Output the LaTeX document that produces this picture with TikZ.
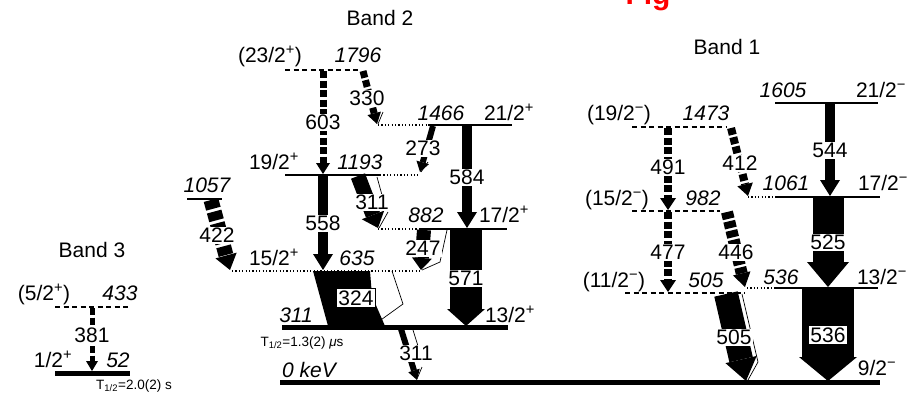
\documentclass[tikz,border=0pt]{standalone}
\usepackage{fontspec}
\setmainfont{Liberation Sans}
\usetikzlibrary{calc}
% #1 style, #2 x1, #3 y1, #4 x2, #5 y2, #6 body width, #7 head width, #8 head length
\newcommand{\gam}[8]{%
  \pgfmathsetmacro\gang{atan2((#3)-(#5),(#4)-(#2))}%
  \pgfmathsetmacro\glen{veclen((#4)-(#2),(#5)-(#3))}%
  \pgfmathsetmacro\gbody{\glen-(#8)}%
  \begin{scope}[shift={(#2,#3)},rotate=\gang]
    \draw[line width=#6pt,#1] (0,0) -- (\gbody,0);
    \fill (\gbody,-#7/2) -- (\glen,0) -- (\gbody,#7/2) -- cycle;
  \end{scope}}
\tikzset{
  lab/.style={font=\fontsize{21}{24}\selectfont, inner sep=1pt, text height=15pt, text depth=0pt},
  en/.style={lab, font=\fontsize{21}{24}\selectfont\itshape},
  glab/.style={lab, fill=white},
  gbox/.style={lab, fill=white, draw=black, line width=0.6pt, inner sep=2pt},
  lev/.style={line width=1.2pt},
  levthick/.style={line width=5pt},
  levdash/.style={line width=1.2pt, dash pattern=on 5pt off 3.5pt},
  levdot/.style={line width=1.2pt, dash pattern=on 1.2pt off 2.2pt},
  gdash/.style={dash pattern=on 7pt off 2.5pt},
  thinl/.style={line width=0.7pt},
  small/.style={font=\fontsize{13.5}{15}\selectfont, inner sep=0pt}
}
\begin{document}
\begin{tikzpicture}[x=1pt,y=-1pt]
\useasboundingbox (0,0) rectangle (916,394);
\fill[white] (0,0) rectangle (916,394);

% cropped red heading
\node[anchor=base, text=red, font=\fontsize{30}{30}\selectfont\bfseries, inner sep=0pt] (fig) at (648,4) {Fig};

% ---------------- levels ----------------
% Band 3
\draw[levdash] (55,307) -- (130,307);
\draw[levthick] (55,373) -- (130,373);
% Band 2
\draw[levdash] (285,70) -- (360,70);
\draw[levdot] (378,125) -- (428,125);
\draw[lev] (428,125) -- (512,125);
\draw[lev] (285,175) -- (380,175);
\draw[levdot] (380,175) -- (418,175);
\draw[lev] (187,199) -- (222,199);
\draw[levdot] (378,229) -- (420,229);
\draw[lev] (420,229) -- (507,229);
\draw[levdot] (232,271) -- (420,271);
\draw[levthick] (282,327) -- (508,327);
\draw[levthick] (280,382) -- (880,382);
% Band 1
\draw[lev] (775,103) -- (878,103);
\draw[levdash] (632,127) -- (727,127);
\draw[levdot] (748,197) -- (775,197);
\draw[lev] (775,197) -- (880,197);
\draw[levdash] (632,211) -- (720,211);
\draw[levdash] (625,293) -- (745,293);
\draw[levdot] (747,288) -- (775,288);
\draw[lev] (775,288) -- (878,288);

% ---------------- transitions ----------------
% Band 3
\gam{gdash}{92}{308}{92}{371}{5}{12}{10}
% Band 2
\gam{gdash}{323}{71}{323}{174}{7}{14}{11}
\gam{gdash}{363}{71}{377}{124}{7}{14}{11}
\draw[thinl] (383,112) -- (378,124);
\gam{}{433}{126}{420}{172}{6}{13}{10}
\draw[thinl] (428,162) -- (421,172);
\gam{}{467}{126}{467}{228}{10}{20}{16}
\gam{}{358}{176}{378}{228}{15}{24}{14}
\draw[thinl] (377,177) -- (382,195);
\draw[thinl] (388,212) -- (379,228);
\gam{}{323}{176}{323}{270}{10}{20}{16}
\gam{dash pattern=on 9pt off 3pt}{211}{200}{230}{270}{15}{22}{15}
\gam{}{424}{230}{421}{270}{14}{20}{12}
\draw[thinl] (447,230) -- (440,262) -- (422,270);
\gam{}{466}{229}{466}{326}{32}{38}{17}
\fill (313,271) -- (370,271) -- (372,296) -- (385,326) -- (328,326) -- cycle;
\draw[thinl] (392,271) -- (403,304) -- (378,322);
\gam{}{401}{329}{417}{380}{6}{12}{10}
\draw[thinl] (413,330) -- (418,346);
\draw[thinl] (422,367) -- (417,379);
% Band 1
\gam{}{830}{104}{830}{196}{10}{20}{16}
\gam{gdash}{668}{128}{668}{210}{8}{16}{12}
\gam{gdash}{731}{128}{748}{196}{8}{16}{12}
\gam{}{828}{198}{828}{287}{31}{42}{25}
\gam{gdash}{668}{212}{668}{292}{8}{16}{12}
\gam{gdash}{727}{212}{745}{287}{12}{18}{14}
\gam{}{726}{294}{746}{381}{24}{32}{22}
\draw[thinl] (742,294) -- (758,362) -- (748,380);
\gam{}{828}{289}{828}{381}{52}{58}{24}

% ---------------- labels ----------------
% Band 3
\node[lab] (b3) at (92,250) {Band 3};
\node[lab] (s433) at (44,293) {(5/2\textsuperscript{+})};
\node[en] (e433) at (120,293) {433};
\node[lab] (s52) at (53,360) {1/2\textsuperscript{+}};
\node[en] (e52) at (118,360) {52};
\node[small] (t52) at (134,386) {T\textsubscript{1/2}=2.0(2) s};
\node[glab] (g381) at (92,335) {381};
% Band 2
\node[lab] (b2) at (380,18) {Band 2};
\node[lab] (s1796) at (270,55) {(23/2\textsuperscript{+})};
\node[en] (e1796) at (358,55) {1796};
\node[en] (e1466) at (441,113) {1466};
\node[lab] (s1466) at (509,113) {21/2\textsuperscript{+}};
\node[lab] (s1193) at (274,162) {19/2\textsuperscript{+}};
\node[en] (e1193) at (360,162) {1193};
\node[en] (e1057) at (207,185) {1057};
\node[en] (e882) at (426,215) {882};
\node[lab] (s882) at (504,215) {17/2\textsuperscript{+}};
\node[lab] (s635) at (274,258) {15/2\textsuperscript{+}};
\node[en] (e635) at (357,258) {635};
\node[en] (e311) at (296,315) {311};
\node[lab] (s311) at (510,315) {13/2\textsuperscript{+}};
\node[small] (t311) at (302,343) {T\textsubscript{1/2}=1.3(2) \textit{μ}s};
\node[en] (e0) at (309,370) {0 keV};
\node[glab] (g603) at (323,122) {603};
\node[glab] (g330) at (367,98) {330};
\node[glab] (g273) at (423,148) {273};
\node[glab] (g584) at (467,177) {584};
\node[glab] (g311a) at (372,202) {311};
\node[glab] (g558) at (323,223) {558};
\node[glab] (g422) at (217,235) {422};
\node[glab] (g247) at (423,248) {247};
\node[glab] (g571) at (466,278) {571};
\node[gbox] (g324) at (356,298) {324};
\node[glab] (g311b) at (416,353) {311};
% Band 1
\node[lab] (b1) at (727,47) {Band 1};
\node[en] (e1605) at (783,90) {1605};
\node[lab] (s1605) at (881,90) {21/2\textsuperscript{−}};
\node[lab] (s1473) at (619,113) {(19/2\textsuperscript{−})};
\node[en] (e1473) at (706,113) {1473};
\node[en] (e1061) at (786,183) {1061};
\node[lab] (s1061) at (883,183) {17/2\textsuperscript{−}};
\node[lab] (s982) at (617,198) {(15/2\textsuperscript{−})};
\node[en] (e982) at (703,198) {982};
\node[lab] (s505) at (614,280) {(11/2\textsuperscript{−})};
\node[en] (e505) at (706,280) {505};
\node[en] (e536) at (781,277) {536};
\node[lab] (s536) at (882,277) {13/2\textsuperscript{−}};
\node[lab] (s0) at (877,368) {9/2\textsuperscript{−}};
\node[glab] (g544) at (830,150) {544};
\node[glab] (g491) at (668,167) {491};
\node[glab] (g412) at (740,163) {412};
\node[glab] (g525) at (828,242) {525};
\node[glab] (g477) at (668,252) {477};
\node[glab] (g446) at (736,252) {446};
\node[glab] (g505) at (734,337) {505};
\node[gbox] (g536) at (828,335) {536};
\end{tikzpicture}
\end{document}
